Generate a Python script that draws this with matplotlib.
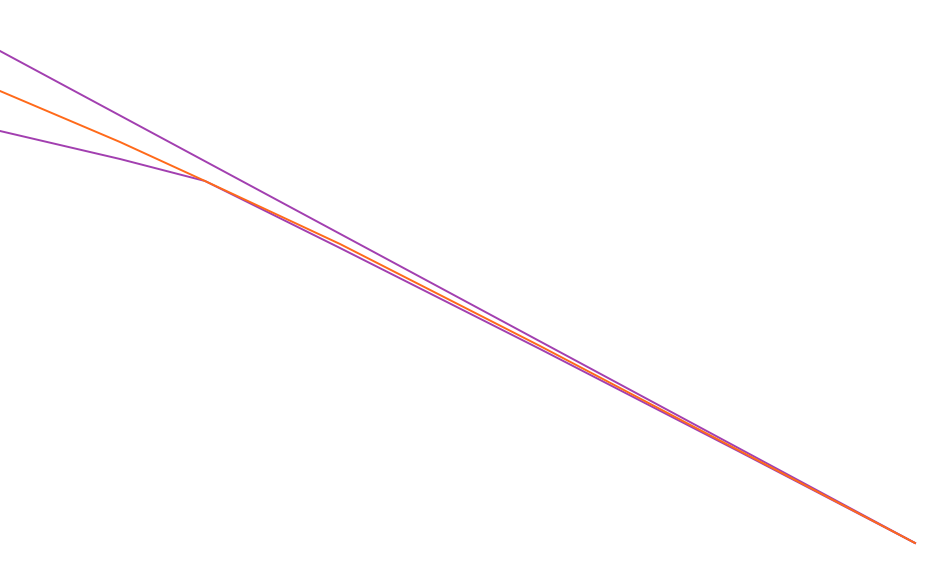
import matplotlib
matplotlib.use('Agg')
import matplotlib.pyplot as plt

# Periods along the horizontal axis
periods = [0, 120, 205, 340, 540, 740, 915]

# Central estimate (orange)
central = [494, 443, 404, 341, 239, 134, 42]

# Lower bound (purple)
lower = [454, 426, 404, 337, 236, 133, 42]

# Upper bound (purple, straight)
upper_periods = [0, 915]
upper = [534, 42]

fig = plt.figure(figsize=(9.27, 5.85), dpi=100)
ax = fig.add_axes([0, 0, 1, 1])

purple = '#a23fb0'
orange = '#ff6a1a'

ax.plot(upper_periods, upper, color=purple, linewidth=1.4)
ax.plot(periods, lower, color=purple, linewidth=1.4)
ax.plot(periods, central, color=orange, linewidth=1.4)

ax.set_xlim(0, 927)
ax.set_ylim(0, 585)
ax.axis('off')

fig.savefig('out.png', dpi=100, facecolor='white')
